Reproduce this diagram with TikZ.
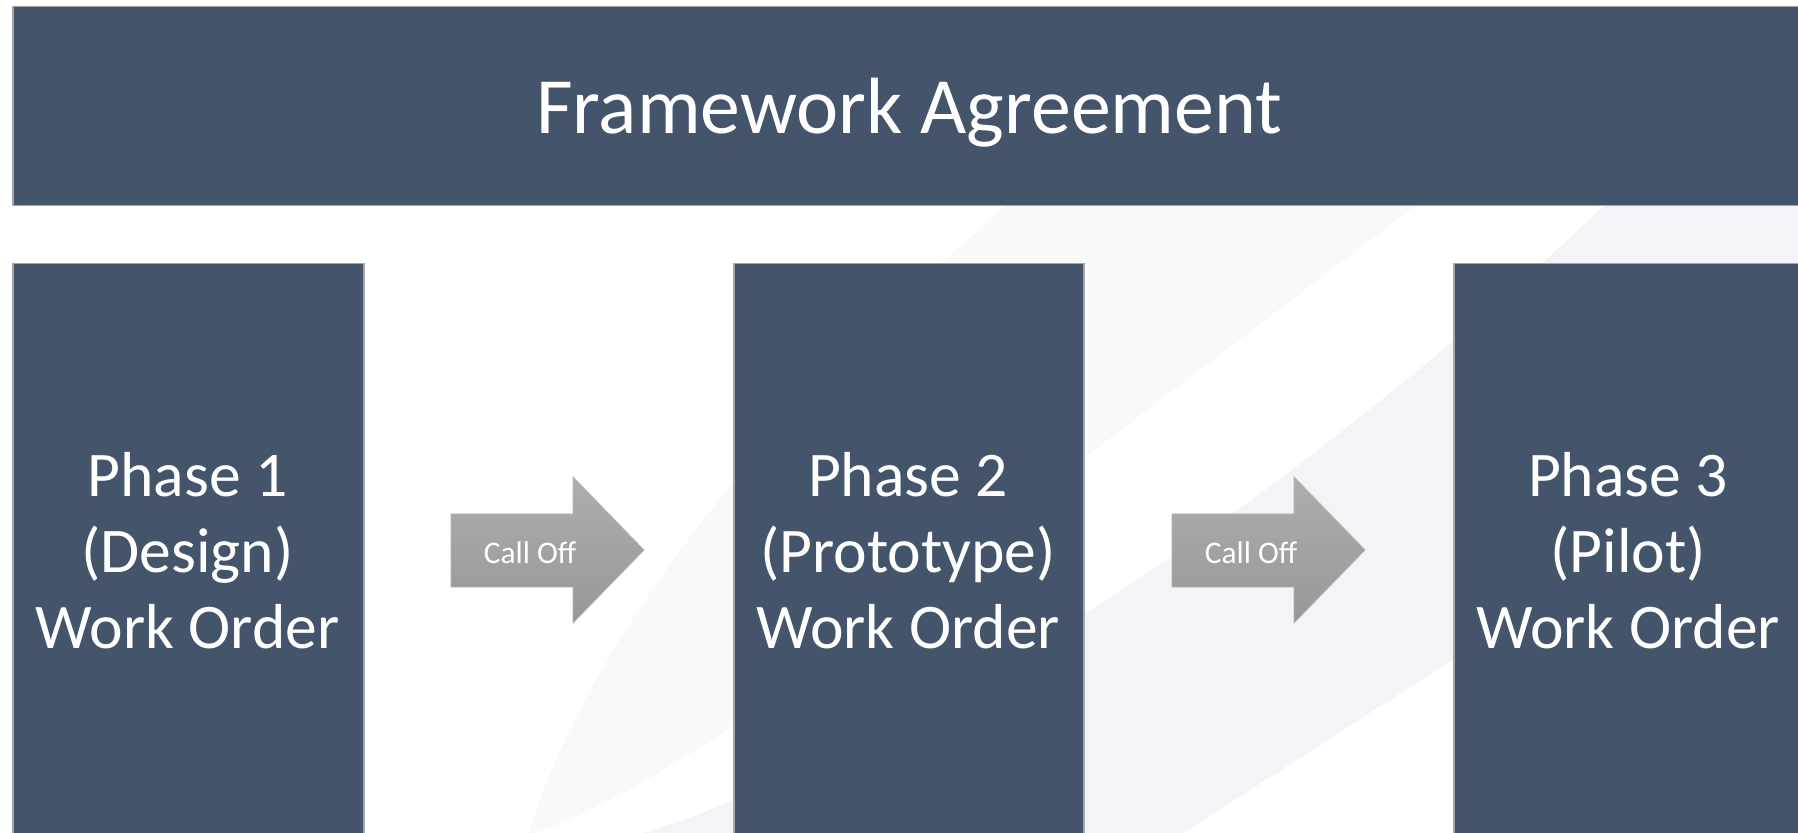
\documentclass[tikz,border=0pt]{standalone}
\usepackage{fontspec}
\setmainfont{Carlito}
\definecolor{bannerblue}{HTML}{44546A}
\definecolor{edgegray}{HTML}{A6A6A6}
\definecolor{swooshA}{HTML}{F9F9F9}
\definecolor{swooshB}{HTML}{F4F4F8}
\definecolor{arrowtop}{HTML}{AEAEAE}
\definecolor{arrowbot}{HTML}{979797}
\definecolor{arrowedge}{HTML}{B4B4B4}
\tikzset{
  bluebox/.style={draw=edgegray, line width=0.75pt, fill=bannerblue, rectangle, inner sep=0pt, anchor=north west},
  titletext/.style={text=white, font=\fontsize{39.9}{48}\selectfont, inner sep=0pt, anchor=base},
  phasetext/.style={text=white, font=\fontsize{31.8}{38}\selectfont, align=center, inner sep=0pt, text depth=0pt, anchor=south},
  blockarrow/.style={draw=arrowedge, line width=0.4pt, top color=arrowtop, bottom color=arrowbot},
  calltext/.style={text=white, font=\fontsize{15.7}{19}\selectfont, inner sep=0pt, anchor=base}
}
\begin{document}
\begin{tikzpicture}[x=0.5pt, y=-0.5pt]
\clip (0,0) rectangle (1798,833);
\fill[white] (0,0) rectangle (1798,833);
% background swooshes
\fill[swooshA] (1012,200) .. controls (820,370) and (600,600) .. (528,835)
  .. controls (700,780) and (980,538) .. (1080,461) -- (1416,205) -- (1416,200) -- cycle;
\fill[swooshB] (1610,200) .. controls (1350,450) and (950,740) .. (637,835)
  -- (1180,835) -- (1810,430) -- (1810,200) -- cycle;
% banner
\node[bluebox, minimum width=897pt, minimum height=99.5pt] (banner) at (12,6) {};
\node[titletext] (title) at (909,134) {Framework Agreement};
% phase boxes
\node[bluebox, minimum width=175.5pt, minimum height=290pt] (box1) at (12,263) {};
\node[bluebox, minimum width=175pt, minimum height=290pt] (box2) at (733,263) {};
\node[bluebox, minimum width=176pt, minimum height=290pt] (box3) at (1453,263) {};
\node[phasetext] (t1) at (187.5,649) {Phase 1\\(Design)\\Work Order};
\node[phasetext] (t2) at (908,649) {Phase 2\\(Prototype)\\Work Order};
\node[phasetext] (t3) at (1628,649) {Phase 3\\(Pilot)\\Work Order};
% call-off arrows
\path[blockarrow] (451,514) -- (573,514) -- (573,477) -- (644,550) -- (573,623) -- (573,587) -- (451,587) -- cycle;
\node[calltext] (c1) at (530,563) {Call Off};
\path[blockarrow] (1172,514) -- (1294,514) -- (1294,477) -- (1365,550) -- (1294,623) -- (1294,587) -- (1172,587) -- cycle;
\node[calltext] (c2) at (1251,563) {Call Off};
\end{tikzpicture}
\end{document}
